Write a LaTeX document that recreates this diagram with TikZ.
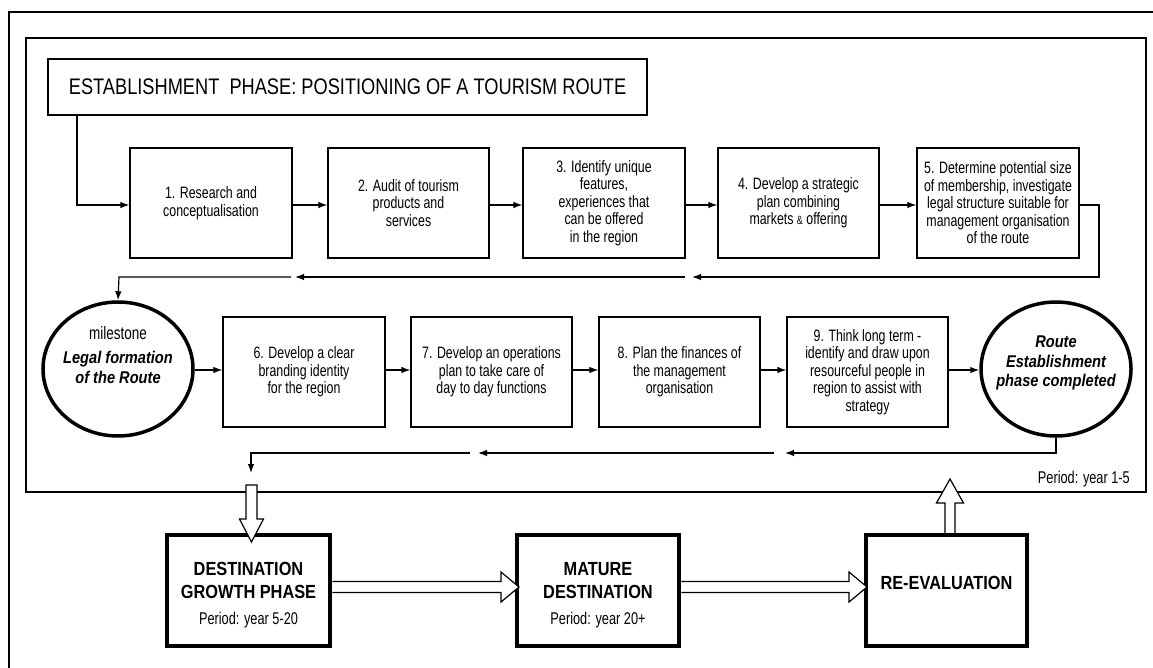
\documentclass[tikz,border=0pt]{standalone}
\usepackage{fontspec}
\setmainfont{Liberation Sans}
\newfontfamily\nar{Liberation Sans}[FakeStretch=0.75]
\newfontfamily\tnar{Liberation Sans}[FakeStretch=0.81]
\newfontfamily\bnar{Liberation Sans}[FakeStretch=0.86]
\usetikzlibrary{shapes.geometric,arrows.meta,calc}
\begin{document}
\begin{tikzpicture}[x=1pt,y=-1pt,
  stepbox/.style={draw,line width=1.2pt,minimum height=110pt,inner sep=0pt,align=center,
    font=\nar\fontsize{16.5}{17.5}\selectfont},
  phasebox/.style={draw,line width=4.5pt,minimum width=162pt,minimum height=111pt,inner sep=0pt},
  mile/.style={draw,ellipse,line width=3.5pt,minimum width=150pt,minimum height=134pt,inner sep=0pt},
  arr/.style={line width=1.2pt,-{Latex[length=9pt,width=6.5pt]}},
  blk/.style={draw,fill=white,line width=1.2pt,line join=miter},
  btxt/.style={align=center,inner sep=0pt}
]
\useasboundingbox (0,0) rectangle (1153,668);
% outer frame
\draw[line width=2pt] (1153,12) -- (9,12) -- (9,668);
% inner frame
\draw[line width=1.5pt] (26,38) rectangle (1146,492);
\node[anchor=base east,inner sep=0pt,font=\nar\fontsize{17}{18}\selectfont] (per1) at (1130,483) {Period: year 1-5};

% title
\node[draw,line width=1.5pt,minimum width=599pt,minimum height=56pt,inner sep=0pt,
  font=\tnar\fontsize{22.5}{25}\selectfont] (title) at (347.5,87) {ESTABLISHMENT\ \ PHASE: POSITIONING OF A TOURISM ROUTE};

% row 1
\node[stepbox,minimum width=162pt] (b1) at (211,203) {1. Research and\\conceptualisation};
\node[stepbox,minimum width=161pt] (b2) at (408.5,203) {2. Audit of tourism\\products and\\services};
\node[stepbox,minimum width=162pt] (b3) at (604,203) {3. Identify unique\\features,\\experiences that\\can be offered\\in the region};
\node[stepbox,minimum width=161pt] (b4) at (798.5,203) {4. Develop a strategic\\plan combining\\markets {\fontsize{12}{12}\selectfont\&} offering};
\node[stepbox,minimum width=162pt] (b5) at (998,203) {5. Determine potential size\\of membership, investigate\\legal structure suitable for\\management organisation\\of the route};

% row 2
\node[mile] (e1) at (118,369) {};
\node[btxt,font=\fontsize{17}{20}\selectfont] (e1t) at (118,355) {{\nar\fontsize{18}{20}\selectfont milestone}\\[4pt]
  {\bnar\bfseries\itshape Legal formation}\\
  {\bnar\bfseries\itshape of the Route}};
\node[stepbox,minimum width=162pt] (b6) at (304,372) {6. Develop a clear\\branding identity\\for the region};
\node[stepbox,minimum width=161pt] (b7) at (491.5,372) {7. Develop an operations\\plan to take care of\\day to day functions};
\node[stepbox,minimum width=161pt] (b8) at (679.5,372) {8. Plan the finances of\\the management\\organisation};
\node[stepbox,minimum width=161pt] (b9) at (867.5,372) {9. Think long term -\\identify and draw upon\\resourceful people in\\region to assist with\\strategy};
\node[mile] (e2) at (1056,369) {};
\node[btxt,font=\bnar\bfseries\itshape\fontsize{17}{19.5}\selectfont] (e2t) at (1056,363) {Route\\Establishment\\phase completed};

% bottom phases
\node[phasebox,minimum width=163pt] (g) at (248.5,590.5) {};
\node[btxt,font=\fontsize{19}{23}\selectfont] (gt) at (248.5,595.5) {{\bnar\bfseries DESTINATION}\\
  {\bnar\bfseries GROWTH PHASE}\\[3pt]
  {\nar\fontsize{17}{23}\selectfont Period: year 5-20}};
\node[phasebox] (m) at (598,590.5) {};
\node[btxt,font=\fontsize{19}{23}\selectfont] (mt) at (598,595.5) {{\bnar\bfseries MATURE}\\
  {\bnar\bfseries DESTINATION}\\[3pt]
  {\nar\fontsize{17}{23}\selectfont Period: year 20+}};
\node[phasebox,minimum width=161pt] (r) at (946.5,590.5) {};
\node[btxt,font=\bnar\bfseries\fontsize{19}{23}\selectfont] (rt) at (946.5,583) {RE-EVALUATION};

% corners
\coordinate (c0) at (77,205);
\coordinate (c1) at (1099,205);
\coordinate (c2) at (1099,277);
\coordinate (h1) at (692,277);
\coordinate (h2) at (685,277);
\coordinate (h3) at (295,277);
\coordinate (h4) at (291,277);
\coordinate (c3) at (119,277);
\coordinate (d1) at (1056,453);
\coordinate (k1) at (785,453);
\coordinate (k2) at (774,453);
\coordinate (k3) at (478,453);
\coordinate (k4) at (470,453);
\coordinate (d2) at (251,453);
\coordinate (d3) at (251,473);

% connectors row 1
\draw[arr] (title.south -| c0) -- (c0) -- (c0 -| b1.west);
\draw[arr] (b1.east |- c0) -- (b2.west |- c0);
\draw[arr] (b2.east |- c0) -- (b3.west |- c0);
\draw[arr] (b3.east |- c0) -- (b4.west |- c0);
\draw[arr] (b4.east |- c0) -- (b5.west |- c0);
\draw[arr] (b5.east |- c0) -- (c1) -- (c2) -- (h1);
\draw[arr] (h2) -- (h3);
\draw[arr] (h4) -- (c3) -- (e1.north);

% connectors row 2
\coordinate (r2) at (0,370);
\draw[arr] (e1.east |- r2) -- (b6.west |- r2);
\draw[arr] (b6.east |- r2) -- (b7.west |- r2);
\draw[arr] (b7.east |- r2) -- (b8.west |- r2);
\draw[arr] (b8.east |- r2) -- (b9.west |- r2);
\draw[arr] (b9.east |- r2) -- (e2.west |- r2);
\draw[arr] (e2.south) -- (d1) -- (k1);
\draw[arr] (k2) -- (k3);
\draw[arr] (k4) -- (d2) -- (d3);

% block arrows
\draw[blk] (246,485) -- (257,485) -- (257,519) -- (263.5,519) -- (251.5,542) -- (239.5,519) -- (246,519) -- cycle;
\draw[blk] (r.north -| 945,0) -- (945,503) -- (936.5,503) -- (950,479) -- (963.5,503) -- (955,503) -- (r.north -| 955,0);
\draw[blk] (g.east |- 0,581.5) -- (501,581.5) -- (501,572) -- (519,587) -- (501,602) -- (501,592.5) -- (g.east |- 0,592.5);
\draw[blk] (m.east |- 0,581.5) -- (849,581.5) -- (849,572) -- (867,587) -- (849,602) -- (849,592.5) -- (m.east |- 0,592.5);
\end{tikzpicture}
\end{document}
